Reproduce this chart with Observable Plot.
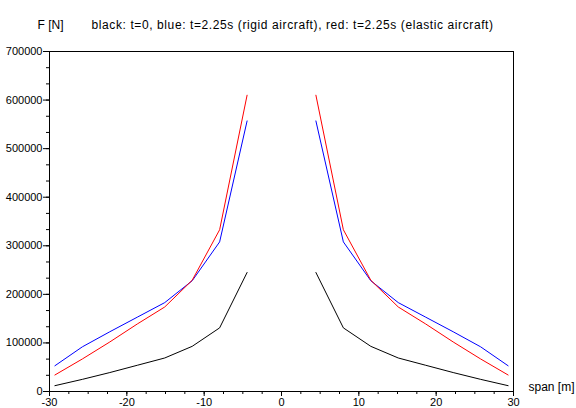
<!DOCTYPE html>
<html>
<head>
<meta charset="utf-8">
<script src="https://cdn.jsdelivr.net/npm/d3@7"></script>
<script src="https://cdn.jsdelivr.net/npm/@observablehq/plot@0.6"></script>
<style>
  html, body { margin: 0; padding: 0; background: #fff; }
  svg { display: block; }
</style>
</head>
<body>
<div id="chart"></div>
<script>
// ---- data ----
const spanLeft  = [-29.3, -25.75, -22.2, -18.65, -15.1, -11.55, -8.0, -4.45];
const spanRight = [4.45, 8.0, 11.55, 15.1, 18.65, 22.2, 25.75, 29.3];

const blackLeft  = [12000, 25000, 39000, 54000, 69000, 93000, 131000, 245000];
const blackRight = [245000, 131000, 93000, 69000, 54000, 39000, 25000, 12000];

const blueLeft  = [53000, 92000, 123000, 153000, 183000, 228000, 308000, 557000];
const blueRight = [557000, 308000, 228000, 183000, 153000, 123000, 92000, 53000];

const redLeft  = [34000, 67000, 102000, 139000, 174000, 229000, 333000, 610000];
const redRight = [610000, 333000, 229000, 174000, 139000, 102000, 67000, 34000];

const seriesNames  = ["t=0", "rigid", "elastic"];
const seriesColors = ["#000000", "#0000ff", "#ff0000"];

const xTicks = [-30, -20, -10, 0, 10, 20, 30];
const yTicks = [0, 100000, 200000, 300000, 400000, 500000, 600000, 700000];
const xMinorTicks = d3.range(-30, 30.001, 2.5);
const yMinorTicks = d3.range(0, 700001, 100000 / 3);

const titleText = "black: t=0, blue: t=2.25s (rigid aircraft), red: t=2.25s (elastic aircraft)";
const yLabel = "F [N]";
const xLabel = "span [m]";

// ---- build table ----
const rows = [];
function addSeries(name, xs, ys, side) {
  xs.forEach((x, i) => rows.push({ x, y: ys[i], series: name, key: name + "-" + side }));
}
addSeries("t=0", spanLeft, blackLeft, "L");
addSeries("t=0", spanRight, blackRight, "R");
addSeries("rigid", spanLeft, blueLeft, "L");
addSeries("rigid", spanRight, blueRight, "R");
addSeries("elastic", spanLeft, redLeft, "L");
addSeries("elastic", spanRight, redRight, "R");

const chart = Plot.plot({
  width: 576,
  height: 408,
  marginLeft: 49,
  marginRight: 63,
  marginTop: 51,
  marginBottom: 17,
  style: { fontFamily: "'Liberation Sans', Arial, sans-serif", fontSize: "11px", color: "#000", background: "#fff" },
  x: { domain: [-30, 30] },
  y: { domain: [0, 700000] },
  color: { domain: seriesNames, range: seriesColors },
  marks: [
    Plot.axisX({ ticks: xMinorTicks, tickSize: 3, tickFormat: () => "", label: null }),
    Plot.axisY({ ticks: yMinorTicks, tickSize: 3, tickFormat: () => "", label: null }),
    Plot.axisX({ ticks: xTicks, tickSize: 5, tickPadding: 2, tickFormat: d => String(d), label: null }),
    Plot.axisY({ ticks: yTicks, tickSize: 6, tickPadding: 1, tickFormat: d => String(d), label: null }),
    Plot.line(rows, { x: "x", y: "y", stroke: "series", z: "key", strokeWidth: 1, strokeLinejoin: "round" }),
    Plot.frame({ stroke: "#000", strokeWidth: 1 }),
    Plot.text([yLabel], { text: d => d, frameAnchor: "top-left", dx: -12, dy: -31, textAnchor: "start", fontSize: 12, fill: "#000" }),
    Plot.text([titleText], { text: d => d, frameAnchor: "top-left", dx: 42, dy: -31, textAnchor: "start", fontSize: 12, fill: "#000" }),
    Plot.text([xLabel], { text: d => d, frameAnchor: "bottom-right", dx: 15, dy: -1, textAnchor: "start", fontSize: 12, fill: "#000" })
  ]
});

// widen the title's letter spacing to match the reference rendering
d3.select(chart).selectAll("text").filter(function () { return this.textContent === titleText; })
  .style("letter-spacing", "0.6px");

document.getElementById("chart").appendChild(chart);
</script>
</body>
</html>
